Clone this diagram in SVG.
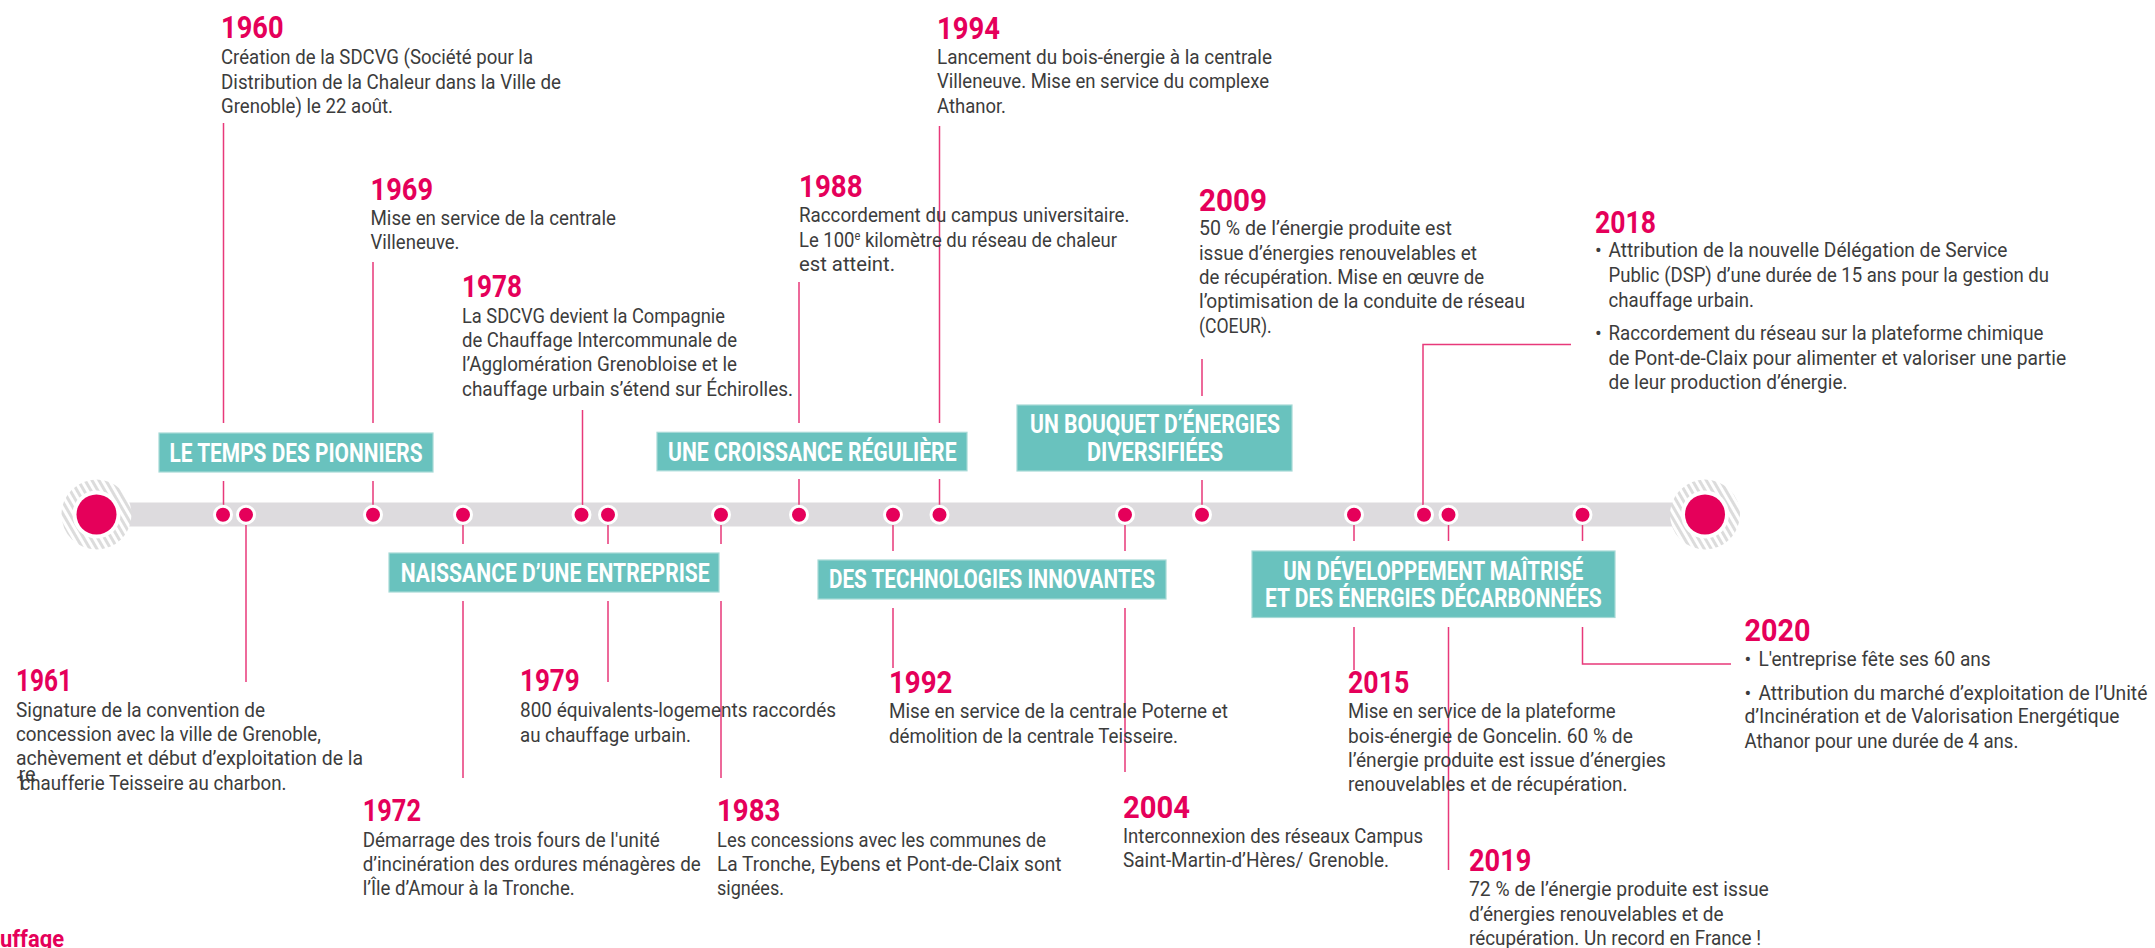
<svg xmlns="http://www.w3.org/2000/svg" width="2155" height="948" viewBox="0 0 2155 948">
<style>
.yr{font-family:Roboto,"Liberation Sans",sans-serif;font-weight:700;font-size:32px;fill:#E5005A}
.tx{font-family:Roboto,"Liberation Sans",sans-serif;font-size:20px;fill:#3c3c3c}
.lb{font-family:Roboto,"Liberation Sans",sans-serif;font-weight:700;font-size:26px;fill:#ffffff}
.box{fill:#69C2BE;stroke:#A6D9D6;stroke-width:1.2}
.cn{stroke:#E8397A;stroke-width:1.5;fill:none}
.dot{fill:#E5005A;stroke:#ffffff;stroke-width:3}
.big{fill:#E5005A}
</style>
<defs>
<pattern id="hatch" width="6" height="6" patternUnits="userSpaceOnUse" patternTransform="rotate(-30)">
<rect width="6" height="6" fill="#ffffff"/>
<rect width="3" height="6" fill="#DCDCDC"/>
</pattern>
</defs>
<rect width="2155" height="948" fill="#ffffff"/>

<g id="timeline-bar">
<rect x="97" y="502.5" width="1608" height="24" fill="#DDDBDE"/>
<circle cx="96.5" cy="514.5" r="35" fill="url(#hatch)"/>
<circle cx="96.5" cy="514.5" r="24" fill="#ffffff"/>
<circle class="big" cx="96.5" cy="514.5" r="20"/>
<circle cx="1705" cy="514.5" r="35" fill="url(#hatch)"/>
<circle cx="1705" cy="514.5" r="24" fill="#ffffff"/>
<circle class="big" cx="1705" cy="514.5" r="20"/>
</g>

<g id="connectors">
<path class="cn" d="M223.5 123V423M223.5 481V505"/>
<path class="cn" d="M373 262V423M373 481V505"/>
<path class="cn" d="M582.5 410V505"/>
<path class="cn" d="M799 282V423M799 479V505"/>
<path class="cn" d="M939.5 126V423M939.5 479V505"/>
<path class="cn" d="M1202 359V396M1202 480V505"/>
<path class="cn" d="M1571 344.5H1423V505"/>
<path class="cn" d="M246 525V682"/>
<path class="cn" d="M463 525V544M463 601V778"/>
<path class="cn" d="M608 525V544M608 601V682"/>
<path class="cn" d="M721 525V544M721 601V778"/>
<path class="cn" d="M893 525V551M893 608V668"/>
<path class="cn" d="M1125 525V551M1125 608V772"/>
<path class="cn" d="M1354 525V541M1354 627V670"/>
<path class="cn" d="M1448.5 525V541M1448.5 627V870"/>
<path class="cn" d="M1582.5 525V541M1582.5 627V664H1731"/>
</g>

<g id="dots">
<circle class="dot" cx="223" cy="514.7" r="8.5"/>
<circle class="dot" cx="246" cy="514.7" r="8.5"/>
<circle class="dot" cx="373" cy="514.7" r="8.5"/>
<circle class="dot" cx="463" cy="514.7" r="8.5"/>
<circle class="dot" cx="581.5" cy="514.7" r="8.5"/>
<circle class="dot" cx="608" cy="514.7" r="8.5"/>
<circle class="dot" cx="721" cy="514.7" r="8.5"/>
<circle class="dot" cx="799" cy="514.7" r="8.5"/>
<circle class="dot" cx="893" cy="514.7" r="8.5"/>
<circle class="dot" cx="939.5" cy="514.7" r="8.5"/>
<circle class="dot" cx="1125" cy="514.7" r="8.5"/>
<circle class="dot" cx="1202" cy="514.7" r="8.5"/>
<circle class="dot" cx="1354" cy="514.7" r="8.5"/>
<circle class="dot" cx="1424" cy="514.7" r="8.5"/>
<circle class="dot" cx="1448.5" cy="514.7" r="8.5"/>
<circle class="dot" cx="1582.5" cy="514.7" r="8.5"/>
</g>

<g id="label-pionniers">
<rect class="box" x="159" y="433" width="274" height="39"/>
<text class="lb" x="169.5" y="462" textLength="253" lengthAdjust="spacingAndGlyphs">LE TEMPS DES PIONNIERS</text>
</g>
<g id="label-naissance">
<rect class="box" x="389" y="553" width="330" height="39"/>
<text class="lb" x="400.7" y="581.7" textLength="309" lengthAdjust="spacingAndGlyphs">NAISSANCE D’UNE ENTREPRISE</text>
</g>
<g id="label-croissance">
<rect class="box" x="657" y="432.3" width="310" height="38.5"/>
<text class="lb" x="668" y="460.7" textLength="288.5" lengthAdjust="spacingAndGlyphs">UNE CROISSANCE RÉGULIÈRE</text>
</g>
<g id="label-technologies">
<rect class="box" x="818" y="560" width="348" height="39"/>
<text class="lb" x="829" y="588" textLength="326" lengthAdjust="spacingAndGlyphs">DES TECHNOLOGIES INNOVANTES</text>
</g>
<g id="label-bouquet">
<rect class="box" x="1017" y="405" width="275" height="66"/>
<text class="lb" x="1030" y="433.3" textLength="250" lengthAdjust="spacingAndGlyphs">UN BOUQUET D’ÉNERGIES</text>
<text class="lb" x="1087" y="461" textLength="136" lengthAdjust="spacingAndGlyphs">DIVERSIFIÉES</text>
</g>
<g id="label-developpement">
<rect class="box" x="1252" y="551" width="363" height="66.5"/>
<text class="lb" x="1283.3" y="580" textLength="300" lengthAdjust="spacingAndGlyphs">UN DÉVELOPPEMENT MAÎTRISÉ</text>
<text class="lb" x="1265" y="606.7" textLength="336.7" lengthAdjust="spacingAndGlyphs">ET DES ÉNERGIES DÉCARBONNÉES</text>
</g>

<g id="event-1960">
<text class="yr" x="221" y="37.5" textLength="62.5" lengthAdjust="spacingAndGlyphs">1960</text>
<text class="tx" x="221" y="64" textLength="312" lengthAdjust="spacingAndGlyphs">Création de la SDCVG (Société pour la</text>
<text class="tx" x="221" y="88.5" textLength="340" lengthAdjust="spacingAndGlyphs">Distribution de la Chaleur dans la Ville de</text>
<text class="tx" x="221" y="112.5" textLength="172" lengthAdjust="spacingAndGlyphs">Grenoble) le 22 août.</text>
</g>
<g id="event-1969">
<text class="yr" x="370.5" y="200" textLength="62.5" lengthAdjust="spacingAndGlyphs">1969</text>
<text class="tx" x="370.5" y="225" textLength="245.5" lengthAdjust="spacingAndGlyphs">Mise en service de la centrale</text>
<text class="tx" x="370.5" y="249" textLength="89" lengthAdjust="spacingAndGlyphs">Villeneuve.</text>
</g>
<g id="event-1978">
<text class="yr" x="462" y="296.7" textLength="60" lengthAdjust="spacingAndGlyphs">1978</text>
<text class="tx" x="462" y="322.7" textLength="263" lengthAdjust="spacingAndGlyphs">La SDCVG devient la Compagnie</text>
<text class="tx" x="462" y="346.7" textLength="275" lengthAdjust="spacingAndGlyphs">de Chauffage Intercommunale de</text>
<text class="tx" x="462" y="370.7" textLength="275" lengthAdjust="spacingAndGlyphs">l’Agglomération Grenobloise et le</text>
<text class="tx" x="462" y="395.7" textLength="331" lengthAdjust="spacingAndGlyphs">chauffage urbain s’étend sur Échirolles.</text>
</g>
<g id="event-1988">
<text class="yr" x="799" y="196.7" textLength="63.6" lengthAdjust="spacingAndGlyphs">1988</text>
<text class="tx" x="799" y="221.7" textLength="330.5" lengthAdjust="spacingAndGlyphs">Raccordement du campus universitaire.</text>
<text class="tx" x="799" y="246.7" textLength="318" lengthAdjust="spacingAndGlyphs">Le 100<tspan dy="-7" font-size="12">e</tspan><tspan dy="7"> kilomètre du réseau de chaleur</tspan></text>
<text class="tx" x="799" y="270.7" textLength="96" lengthAdjust="spacingAndGlyphs">est atteint.</text>
</g>
<g id="event-1994">
<text class="yr" x="937" y="39.3" textLength="63" lengthAdjust="spacingAndGlyphs">1994</text>
<text class="tx" x="937" y="64" textLength="335" lengthAdjust="spacingAndGlyphs">Lancement du bois-énergie à la centrale</text>
<text class="tx" x="937" y="88.3" textLength="332" lengthAdjust="spacingAndGlyphs">Villeneuve. Mise en service du complexe</text>
<text class="tx" x="937" y="112.7" textLength="69" lengthAdjust="spacingAndGlyphs">Athanor.</text>
</g>
<g id="event-2009">
<text class="yr" x="1199" y="210.7" textLength="68" lengthAdjust="spacingAndGlyphs">2009</text>
<text class="tx" x="1199" y="235" textLength="253" lengthAdjust="spacingAndGlyphs">50 % de l’énergie produite est</text>
<text class="tx" x="1199" y="260" textLength="278" lengthAdjust="spacingAndGlyphs">issue d’énergies renouvelables et</text>
<text class="tx" x="1199" y="284" textLength="285" lengthAdjust="spacingAndGlyphs">de récupération. Mise en œuvre de</text>
<text class="tx" x="1199" y="308.3" textLength="326" lengthAdjust="spacingAndGlyphs">l’optimisation de la conduite de réseau</text>
<text class="tx" x="1199" y="333.3" textLength="72.7" lengthAdjust="spacingAndGlyphs">(COEUR).</text>
</g>
<g id="event-2018">
<text class="yr" x="1595" y="232.7" textLength="61" lengthAdjust="spacingAndGlyphs">2018</text>
<text class="tx" x="1595" y="257.3">•</text>
<text class="tx" x="1608.5" y="257.3" textLength="399" lengthAdjust="spacingAndGlyphs">Attribution de la nouvelle Délégation de Service</text>
<text class="tx" x="1608.5" y="282.3" textLength="440.5" lengthAdjust="spacingAndGlyphs">Public (DSP) d’une durée de 15 ans pour la gestion du</text>
<text class="tx" x="1608.5" y="306.7" textLength="145.5" lengthAdjust="spacingAndGlyphs">chauffage urbain.</text>
<text class="tx" x="1595" y="340">•</text>
<text class="tx" x="1608.5" y="340" textLength="435" lengthAdjust="spacingAndGlyphs">Raccordement du réseau sur la plateforme chimique</text>
<text class="tx" x="1608.5" y="365" textLength="457.6" lengthAdjust="spacingAndGlyphs">de Pont-de-Claix pour alimenter et valoriser une partie</text>
<text class="tx" x="1608.5" y="389.3" textLength="239" lengthAdjust="spacingAndGlyphs">de leur production d’énergie.</text>
</g>

<g id="event-1961">
<text class="yr" x="16" y="690.7" textLength="56" lengthAdjust="spacingAndGlyphs">1961</text>
<text class="tx" x="16" y="716.7" textLength="249" lengthAdjust="spacingAndGlyphs">Signature de la convention de</text>
<text class="tx" x="16" y="740.7" textLength="305" lengthAdjust="spacingAndGlyphs">concession avec la ville de Grenoble,</text>
<text class="tx" x="16" y="765" textLength="347" lengthAdjust="spacingAndGlyphs">achèvement et début d’exploitation de la</text>
<text class="tx" x="15.5" y="790">1</text>
<text class="tx" x="18.5" y="781" font-size="10">re</text>
<text class="tx" x="20.5" y="790" textLength="266" lengthAdjust="spacingAndGlyphs">chaufferie Teisseire au charbon.</text>
</g>
<g id="event-1972">
<text class="yr" x="362.7" y="821" textLength="58.3" lengthAdjust="spacingAndGlyphs">1972</text>
<text class="tx" x="362.7" y="846.7" textLength="297" lengthAdjust="spacingAndGlyphs">Démarrage des trois fours de l'unité</text>
<text class="tx" x="362.7" y="871" textLength="338" lengthAdjust="spacingAndGlyphs">d’incinération des ordures ménagères de</text>
<text class="tx" x="362.7" y="895" textLength="212" lengthAdjust="spacingAndGlyphs">l’Île d’Amour à la Tronche.</text>
</g>
<g id="event-1979">
<text class="yr" x="520" y="690.7" textLength="59.7" lengthAdjust="spacingAndGlyphs">1979</text>
<text class="tx" x="520" y="716.7" textLength="316" lengthAdjust="spacingAndGlyphs">800 équivalents-logements raccordés</text>
<text class="tx" x="520" y="741.7" textLength="171" lengthAdjust="spacingAndGlyphs">au chauffage urbain.</text>
</g>
<g id="event-1983">
<text class="yr" x="717" y="821" textLength="63.4" lengthAdjust="spacingAndGlyphs">1983</text>
<text class="tx" x="717" y="846.7" textLength="329" lengthAdjust="spacingAndGlyphs">Les concessions avec les communes de</text>
<text class="tx" x="717" y="871" textLength="344.6" lengthAdjust="spacingAndGlyphs">La Tronche, Eybens et Pont-de-Claix sont</text>
<text class="tx" x="717" y="895" textLength="67" lengthAdjust="spacingAndGlyphs">signées.</text>
</g>
<g id="event-1992">
<text class="yr" x="889" y="693.3" textLength="63.4" lengthAdjust="spacingAndGlyphs">1992</text>
<text class="tx" x="889" y="718.3" textLength="339" lengthAdjust="spacingAndGlyphs">Mise en service de la centrale Poterne et</text>
<text class="tx" x="889" y="742.7" textLength="289" lengthAdjust="spacingAndGlyphs">démolition de la centrale Teisseire.</text>
</g>
<g id="event-2004">
<text class="yr" x="1123" y="818.3" textLength="67" lengthAdjust="spacingAndGlyphs">2004</text>
<text class="tx" x="1123" y="843.3" textLength="300" lengthAdjust="spacingAndGlyphs">Interconnexion des réseaux Campus</text>
<text class="tx" x="1123" y="867.3" textLength="266" lengthAdjust="spacingAndGlyphs">Saint-Martin-d’Hères/ Grenoble.</text>
</g>
<g id="event-2015">
<text class="yr" x="1348" y="692.7" textLength="61.3" lengthAdjust="spacingAndGlyphs">2015</text>
<text class="tx" x="1348" y="718.3" textLength="267.7" lengthAdjust="spacingAndGlyphs">Mise en service de la plateforme</text>
<text class="tx" x="1348" y="742.7" textLength="284.8" lengthAdjust="spacingAndGlyphs">bois-énergie de Goncelin. 60 % de</text>
<text class="tx" x="1348" y="766.7" textLength="318" lengthAdjust="spacingAndGlyphs">l’énergie produite est issue d’énergies</text>
<text class="tx" x="1348" y="791" textLength="279.6" lengthAdjust="spacingAndGlyphs">renouvelables et de récupération.</text>
</g>
<g id="event-2019">
<text class="yr" x="1469" y="870.7" textLength="62.4" lengthAdjust="spacingAndGlyphs">2019</text>
<text class="tx" x="1469" y="896" textLength="299.8" lengthAdjust="spacingAndGlyphs">72 % de l’énergie produite est issue</text>
<text class="tx" x="1469" y="920.7" textLength="254.6" lengthAdjust="spacingAndGlyphs">d’énergies renouvelables et de</text>
<text class="tx" x="1469" y="945" textLength="292" lengthAdjust="spacingAndGlyphs">récupération. Un record en France !</text>
</g>
<g id="event-2020">
<text class="yr" x="1744.4" y="640.7" textLength="66" lengthAdjust="spacingAndGlyphs">2020</text>
<text class="tx" x="1744.4" y="666">•</text>
<text class="tx" x="1758.4" y="666" textLength="232.3" lengthAdjust="spacingAndGlyphs">L'entreprise fête ses 60 ans</text>
<text class="tx" x="1744.4" y="700">•</text>
<text class="tx" x="1758.4" y="700" textLength="389" lengthAdjust="spacingAndGlyphs">Attribution du marché d’exploitation de l’Unité</text>
<text class="tx" x="1744.4" y="723.3" textLength="375" lengthAdjust="spacingAndGlyphs">d’Incinération et de Valorisation Energétique</text>
<text class="tx" x="1744.4" y="748.3" textLength="274" lengthAdjust="spacingAndGlyphs">Athanor pour une durée de 4 ans.</text>
</g>

<g id="footer-fragment">
<text x="0" y="947" font-family="Roboto,'Liberation Sans',sans-serif" font-weight="700" font-size="23" fill="#E5005A" textLength="64" lengthAdjust="spacingAndGlyphs">uffage</text>
</g>
</svg>
